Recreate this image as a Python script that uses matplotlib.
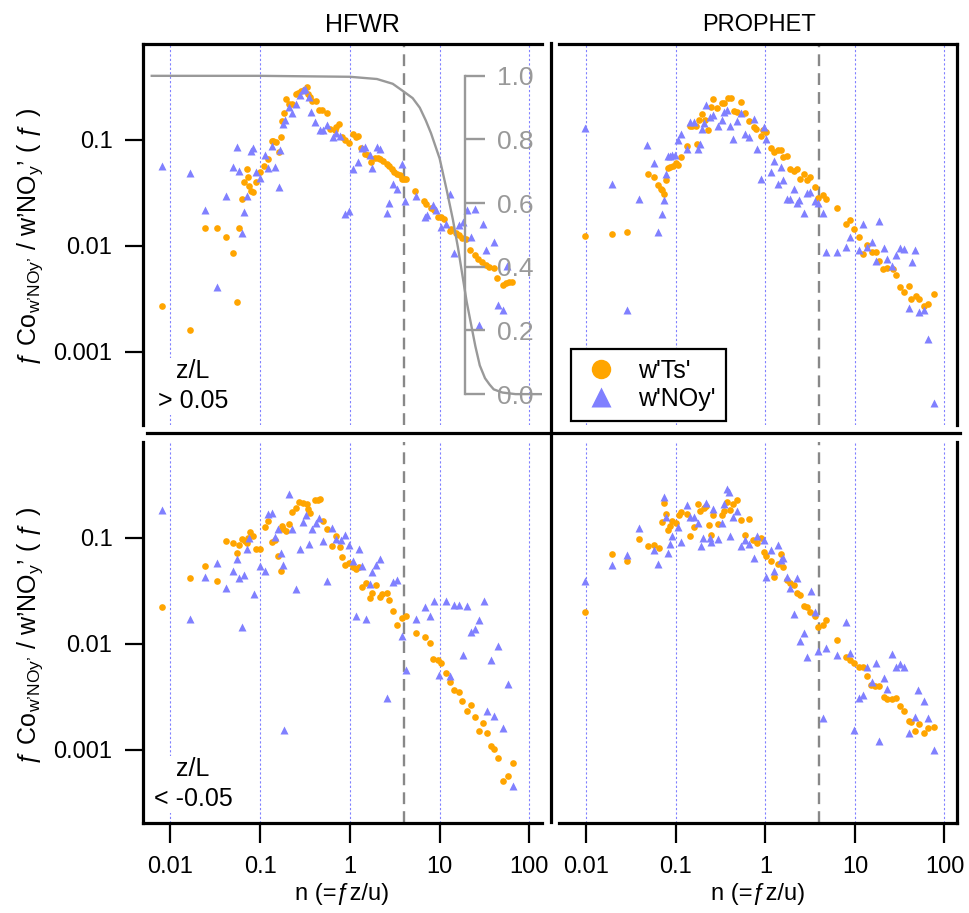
import numpy as np
import matplotlib
matplotlib.use("Agg")
import matplotlib.pyplot as plt
from matplotlib.lines import Line2D
from matplotlib.ticker import NullLocator

plt.rcParams['font.family'] = ['Liberation Sans', 'DejaVu Sans']
plt.rcParams['mathtext.fontset'] = 'custom'
plt.rcParams['mathtext.rm'] = 'Liberation Sans'

# points as (log10 n, log10 normalised cospectrum)
hfwr_stable_ts = [
    (-2.09, -2.57), (-1.78, -2.79), (-1.61, -1.83), (-1.48, -1.83), (-1.38, -1.92), (-1.30, -2.07),
    (-1.26, -2.53), (-1.23, -1.83), (-1.20, -1.56), (-1.18, -1.40), (-1.15, -1.28), (-1.13, -1.35),
    (-1.12, -1.44), (-1.10, -1.48), (-1.08, -1.49), (-1.05, -1.40), (-1.00, -1.30), (-0.96, -1.25),
    (-0.91, -1.18), (-0.87, -1.01), (-0.86, -1.01), (-0.82, -1.02), (-0.79, -1.12), (-0.77, -0.97),
    (-0.76, -0.82), (-0.73, -0.75), (-0.71, -0.62), (-0.68, -0.66), (-0.65, -0.66), (-0.60, -0.57),
    (-0.58, -0.56), (-0.54, -0.54), (-0.51, -0.53), (-0.48, -0.50), (-0.47, -0.57), (-0.45, -0.60),
    (-0.42, -0.63), (-0.38, -0.63), (-0.34, -0.72), (-0.31, -0.72), (-0.25, -0.75), (-0.22, -0.90),
    (-0.17, -0.91), (-0.15, -0.88), (-0.12, -0.85), (-0.09, -0.97), (-0.06, -1.00), (-0.01, -1.03),
    (0.03, -0.95), (0.07, -0.97), (0.09, -0.96), (0.12, -1.08), (0.17, -1.13), (0.20, -1.14),
    (0.24, -1.21), (0.28, -1.17), (0.31, -1.17), (0.34, -1.18), (0.37, -1.20), (0.41, -1.23),
    (0.44, -1.25), (0.47, -1.28), (0.49, -1.30), (0.53, -1.32), (0.56, -1.33), (0.58, -1.37),
    (0.60, -1.37), (0.62, -1.37), (0.73, -1.48), (0.83, -1.58), (0.85, -1.61), (0.90, -1.64),
    (0.94, -1.66), (0.98, -1.73), (1.02, -1.73), (1.05, -1.75), (1.11, -1.86), (1.13, -1.84),
    (1.18, -1.88), (1.22, -1.90), (1.25, -1.93), (1.29, -1.94), (1.34, -2.04), (1.39, -2.09),
    (1.43, -2.12), (1.47, -2.15), (1.52, -2.18), (1.55, -2.20), (1.61, -2.21), (1.64, -2.30),
    (1.70, -2.37), (1.74, -2.35), (1.77, -2.34), (1.81, -2.34),
]
hfwr_stable_noy = [
    (-2.09, -1.25), (-1.78, -1.31), (-1.61, -1.66), (-1.48, -2.39), (-1.38, -1.53), (-1.30, -1.26),
    (-1.26, -1.07), (-1.23, -1.29), (-1.20, -1.88), (-1.18, -1.68), (-1.15, -1.53), (-1.10, -1.11),
    (-1.08, -1.08), (-1.05, -1.30), (-1.00, -1.36), (-0.95, -1.14), (-0.91, -1.27), (-0.87, -1.06),
    (-0.83, -1.26), (-0.79, -1.45), (-0.78, -1.10), (-0.74, -0.85), (-0.72, -0.81), (-0.68, -0.69),
    (-0.64, -0.75), (-0.60, -0.66), (-0.56, -0.58), (-0.52, -0.53), (-0.50, -0.52), (-0.46, -0.60),
    (-0.43, -0.74), (-0.39, -0.83), (-0.33, -0.91), (-0.30, -0.91), (-0.26, -0.86), (-0.19, -0.97),
    (-0.15, -0.94), (-0.11, -0.96), (-0.06, -1.70), (-0.01, -1.67), (0.03, -1.28), (0.09, -1.21),
    (0.13, -1.08), (0.17, -1.07), (0.22, -1.14), (0.25, -1.27), (0.30, -1.07), (0.33, -1.09),
    (0.41, -1.69), (0.44, -1.60), (0.48, -1.42), (0.53, -1.46), (0.58, -1.23), (0.61, -1.58),
    (0.74, -1.53), (0.84, -1.73), (0.86, -1.71), (0.93, -1.62), (0.96, -1.66), (1.02, -1.82),
    (1.07, -1.79), (1.12, -1.51), (1.16, -2.07), (1.21, -1.80), (1.26, -1.78), (1.30, -1.66),
    (1.35, -1.92), (1.39, -1.65), (1.44, -2.75), (1.48, -1.79), (1.52, -2.04), (1.60, -1.96),
    (1.65, -2.56), (1.71, -2.61), (1.75, -2.19),
]
prophet_stable_ts = [
    (-2.01, -1.91), (-1.71, -1.89), (-1.54, -1.87), (-1.31, -1.32), (-1.24, -1.35), (-1.20, -1.43),
    (-1.17, -1.46), (-1.15, -1.47), (-1.13, -1.51), (-1.11, -1.38), (-1.09, -1.27), (-1.06, -1.26),
    (-1.03, -1.25), (-1.00, -1.22), (-0.98, -1.24), (-0.94, -1.16), (-0.88, -1.06), (-0.84, -0.87),
    (-0.82, -0.87), (-0.78, -0.87), (-0.76, -1.04), (-0.74, -0.81), (-0.71, -0.76), (-0.68, -0.81),
    (-0.64, -0.91), (-0.61, -0.69), (-0.58, -0.62), (-0.54, -0.70), (-0.49, -0.65), (-0.46, -0.65),
    (-0.42, -0.61), (-0.38, -0.61), (-0.35, -0.73), (-0.32, -0.74), (-0.27, -0.64), (-0.23, -0.75),
    (-0.18, -0.82), (-0.13, -0.88), (-0.10, -0.90), (-0.05, -0.96), (-0.03, -0.91), (0.01, -0.93),
    (0.06, -1.08), (0.10, -1.12), (0.14, -1.10), (0.17, -1.10), (0.20, -1.16), (0.24, -1.15),
    (0.28, -1.28), (0.32, -1.29), (0.35, -1.28), (0.39, -1.37), (0.43, -1.32), (0.47, -1.38),
    (0.50, -1.35), (0.55, -1.45), (0.59, -1.55), (0.64, -1.52), (0.68, -1.56), (0.80, -1.64),
    (0.90, -1.79), (0.94, -1.76), (0.99, -1.84), (1.04, -1.92), (1.09, -2.08), (1.14, -1.99),
    (1.19, -2.06), (1.24, -2.06), (1.27, -2.14), (1.31, -2.22), (1.36, -2.21), (1.42, -2.22),
    (1.46, -2.28), (1.50, -2.39), (1.55, -2.44), (1.60, -2.38), (1.63, -2.50), (1.68, -2.47),
    (1.72, -2.50), (1.77, -2.57), (1.82, -2.55), (1.88, -2.45),
]
prophet_stable_noy = [
    (-2.01, -0.89), (-1.71, -1.42), (-1.54, -2.61), (-1.41, -1.56), (-1.32, -1.05), (-1.24, -1.22),
    (-1.20, -1.87), (-1.15, -1.70), (-1.13, -1.57), (-1.11, -1.32), (-1.09, -1.15), (-1.07, -1.15),
    (-1.04, -1.14), (-1.01, -1.14), (-0.98, -1.00), (-0.94, -0.95), (-0.88, -1.09), (-0.84, -0.83),
    (-0.80, -0.83), (-0.75, -1.09), (-0.73, -1.04), (-0.71, -0.90), (-0.69, -0.84), (-0.66, -0.67),
    (-0.62, -0.79), (-0.58, -0.77), (-0.53, -0.87), (-0.49, -0.81), (-0.46, -0.74), (-0.43, -0.72),
    (-0.40, -0.87), (-0.36, -0.99), (-0.32, -0.82), (-0.27, -0.75), (-0.23, -0.95), (-0.18, -0.97),
    (-0.13, -0.80), (-0.09, -1.09), (-0.05, -1.37), (-0.02, -0.88), (0.01, -0.99), (0.06, -1.30),
    (0.10, -1.20), (0.14, -1.42), (0.17, -1.26), (0.20, -1.38), (0.24, -1.56), (0.27, -1.56),
    (0.32, -1.46), (0.35, -1.60), (0.38, -1.57), (0.43, -1.69), (0.47, -1.50), (0.50, -1.49),
    (0.55, -1.58), (0.59, -1.60), (0.64, -1.69), (0.68, -2.06), (0.80, -2.06), (0.90, -2.01),
    (0.95, -1.92), (1.04, -2.04), (1.09, -1.79), (1.13, -2.01), (1.19, -1.96), (1.24, -2.14),
    (1.27, -1.77), (1.32, -2.02), (1.36, -2.12), (1.41, -2.19), (1.46, -2.09), (1.50, -2.02),
    (1.55, -2.03), (1.60, -2.59), (1.64, -2.15), (1.67, -2.04), (1.72, -2.62), (1.77, -2.61),
    (1.82, -2.88), (1.88, -3.48),
]
hfwr_unstable_ts = [
    (-2.09, -1.65), (-1.78, -1.38), (-1.61, -1.27), (-1.48, -1.41), (-1.38, -1.03), (-1.30, -1.05),
    (-1.26, -1.14), (-1.23, -1.07), (-1.20, -1.01), (-1.17, -1.03), (-1.15, -1.05), (-1.13, -1.00),
    (-1.11, -0.95), (-1.08, -0.98), (-1.05, -1.11), (-1.00, -1.11), (-0.95, -0.90), (-0.91, -0.84),
    (-0.87, -1.04), (-0.84, -1.02), (-0.80, -1.17), (-0.77, -1.31), (-0.76, -0.89), (-0.74, -0.92),
    (-0.71, -0.94), (-0.68, -0.87), (-0.64, -0.76), (-0.60, -0.72), (-0.57, -0.66), (-0.52, -0.67),
    (-0.48, -0.68), (-0.47, -0.73), (-0.44, -0.77), (-0.39, -0.64), (-0.35, -0.64), (-0.33, -0.63),
    (-0.30, -0.84), (-0.25, -0.92), (-0.20, -1.08), (-0.16, -0.98), (-0.11, -1.09), (-0.09, -1.18),
    (-0.06, -1.26), (-0.01, -1.24), (0.04, -1.28), (0.07, -1.29), (0.10, -1.28), (0.13, -1.46),
    (0.18, -1.43), (0.22, -1.57), (0.25, -1.52), (0.29, -1.45), (0.33, -1.56), (0.36, -1.53),
    (0.41, -1.52), (0.44, -1.59), (0.48, -1.69), (0.53, -1.82), (0.58, -1.76), (0.62, -1.74),
    (0.74, -1.90), (0.84, -1.94), (0.89, -1.99), (0.93, -2.14), (0.98, -2.15), (1.02, -2.18),
    (1.07, -2.28), (1.12, -2.36), (1.16, -2.44), (1.21, -2.45), (1.25, -2.54), (1.30, -2.63),
    (1.35, -2.58), (1.39, -2.69), (1.44, -2.82), (1.48, -2.75), (1.53, -2.84), (1.57, -2.96),
    (1.61, -2.99), (1.65, -3.08), (1.71, -3.29), (1.76, -3.25), (1.82, -3.12),
]
hfwr_unstable_noy = [
    (-2.09, -0.74), (-1.78, -1.77), (-1.61, -1.37), (-1.48, -1.24), (-1.38, -1.47), (-1.30, -1.31),
    (-1.26, -1.20), (-1.23, -1.38), (-1.20, -1.84), (-1.18, -1.35), (-1.15, -1.11), (-1.12, -1.00),
    (-1.07, -1.53), (-1.00, -1.27), (-0.95, -1.31), (-0.91, -0.78), (-0.87, -0.77), (-0.83, -0.99),
    (-0.80, -0.92), (-0.77, -1.14), (-0.75, -1.26), (-0.73, -2.81), (-0.68, -0.59), (-0.64, -0.92),
    (-0.60, -1.48), (-0.56, -1.11), (-0.52, -0.85), (-0.49, -0.79), (-0.46, -1.06), (-0.42, -0.92),
    (-0.38, -0.86), (-0.34, -0.81), (-0.30, -1.03), (-0.25, -1.41), (-0.20, -0.91), (-0.15, -1.01),
    (-0.10, -1.02), (-0.05, -0.97), (-0.01, -1.07), (0.04, -1.22), (0.07, -1.74), (0.10, -1.11),
    (0.14, -1.27), (0.18, -1.77), (0.22, -1.44), (0.25, -1.32), (0.29, -1.26), (0.33, -1.20),
    (0.41, -2.51), (0.48, -1.42), (0.53, -1.40), (0.58, -1.93), (0.62, -2.25), (0.74, -1.77),
    (0.84, -1.65), (0.89, -1.74), (0.94, -1.60), (0.99, -2.29), (1.07, -1.60), (1.12, -2.30),
    (1.16, -1.63), (1.21, -1.63), (1.26, -2.11), (1.30, -1.64), (1.35, -1.89), (1.39, -1.86),
    (1.44, -1.78), (1.49, -1.60), (1.53, -2.63), (1.57, -2.15), (1.61, -2.68), (1.65, -2.02),
    (1.71, -2.79), (1.76, -2.38), (1.82, -3.34),
]
prophet_unstable_ts = [
    (-2.01, -1.70), (-1.71, -1.15), (-1.54, -1.22), (-1.41, -1.01), (-1.31, -1.08), (-1.24, -1.07),
    (-1.19, -1.10), (-1.16, -0.85), (-1.13, -0.67), (-1.11, -0.78), (-1.09, -0.93), (-1.07, -0.89),
    (-1.04, -0.84), (-1.00, -0.86), (-0.97, -0.79), (-0.94, -0.76), (-0.88, -0.78), (-0.84, -0.98),
    (-0.80, -0.90), (-0.75, -0.68), (-0.73, -0.75), (-0.69, -0.72), (-0.66, -0.70), (-0.63, -0.88),
    (-0.61, -0.97), (-0.58, -0.79), (-0.53, -0.87), (-0.49, -0.79), (-0.46, -0.75), (-0.43, -0.66),
    (-0.39, -0.74), (-0.36, -0.68), (-0.32, -0.64), (-0.27, -0.83), (-0.23, -0.97), (-0.18, -0.82),
    (-0.14, -1.02), (-0.09, -1.05), (-0.05, -1.00), (-0.02, -1.13), (0.01, -1.17), (0.06, -1.22),
    (0.10, -1.37), (0.14, -1.25), (0.17, -1.15), (0.20, -1.28), (0.24, -1.40), (0.28, -1.43),
    (0.32, -1.45), (0.35, -1.52), (0.39, -1.54), (0.43, -1.64), (0.47, -1.65), (0.50, -1.70),
    (0.55, -1.74), (0.59, -1.84), (0.64, -1.82), (0.68, -1.78), (0.80, -1.96), (0.90, -2.12),
    (0.95, -2.15), (0.99, -2.18), (1.04, -2.22), (1.09, -2.22), (1.13, -2.30), (1.18, -2.39),
    (1.22, -2.40), (1.27, -2.40), (1.32, -2.50), (1.36, -2.52), (1.41, -2.52), (1.46, -2.51),
    (1.50, -2.59), (1.55, -2.63), (1.60, -2.73), (1.63, -2.74), (1.67, -2.82), (1.72, -2.76),
    (1.77, -2.84), (1.82, -2.79), (1.88, -2.78),
]
prophet_unstable_noy = [
    (-2.01, -1.41), (-1.71, -1.26), (-1.54, -1.16), (-1.41, -0.91), (-1.24, -1.12), (-1.20, -1.25),
    (-1.13, -0.62), (-1.11, -0.80), (-1.09, -1.14), (-1.07, -1.06), (-1.04, -0.98), (-0.98, -0.90),
    (-0.94, -1.04), (-0.88, -0.69), (-0.84, -0.80), (-0.80, -0.80), (-0.75, -0.86), (-0.72, -1.08),
    (-0.70, -1.00), (-0.66, -0.67), (-0.62, -1.00), (-0.61, -1.04), (-0.58, -0.73), (-0.53, -1.01),
    (-0.48, -0.86), (-0.46, -0.68), (-0.43, -0.54), (-0.41, -0.57), (-0.39, -0.98), (-0.36, -0.80),
    (-0.32, -0.75), (-0.27, -1.08), (-0.23, -1.02), (-0.18, -1.06), (-0.13, -1.19), (-0.09, -0.98),
    (-0.02, -1.02), (0.01, -1.37), (0.06, -1.12), (0.10, -1.31), (0.14, -1.07), (0.17, -1.21),
    (0.20, -1.19), (0.24, -1.37), (0.28, -1.47), (0.32, -1.72), (0.35, -1.38), (0.39, -1.97),
    (0.43, -1.90), (0.47, -2.12), (0.51, -1.50), (0.55, -1.70), (0.59, -2.07), (0.64, -2.70),
    (0.68, -2.04), (0.80, -2.11), (0.90, -1.79), (0.95, -2.09), (0.99, -2.81), (1.04, -2.51),
    (1.09, -2.48), (1.13, -2.22), (1.19, -2.36), (1.24, -2.18), (1.27, -2.92), (1.32, -2.32),
    (1.36, -2.43), (1.41, -2.10), (1.46, -2.22), (1.50, -2.19), (1.55, -2.22), (1.60, -2.84),
    (1.67, -2.69), (1.71, -2.44), (1.77, -2.54), (1.82, -2.70), (1.88, -3.00),
]

# transfer function drawn against the grey right axis (top-left panel)
transfer_n = [0.0062, 0.1, 1, 2, 3, 4, 5, 6, 7, 8, 10, 12, 14, 16, 18, 20, 22, 25, 28, 32, 36, 40, 50, 70, 140]
transfer_v = [1.0, 1.0, 0.997, 0.99, 0.975, 0.95, 0.93, 0.90, 0.86, 0.82, 0.74, 0.64, 0.55, 0.46, 0.37,
              0.29, 0.23, 0.15, 0.09, 0.05, 0.03, 0.015, 0.005, 0.0, 0.0]

n_cut = 4
x_ticks = [0.01, 0.1, 1, 10, 100]
x_labels = ['0.01', '0.1', '1', '10', '100']
y_ticks = [0.001, 0.01, 0.1]
y_labels = ['0.001', '0.01', '0.1']
right_ticks = [0.0, 0.2, 0.4, 0.6, 0.8, 1.0]

ORANGE = '#FFA500'
BLUE = '#8080FF'
GREY = '#999999'

W, H = 970, 913
fig = plt.figure(figsize=(W / 100, H / 100), dpi=100)


def box(x0, y0, x1, y1):
    # pixel box (y from top) -> figure fraction
    return [x0 / W, 1 - y1 / H, (x1 - x0) / W, (y1 - y0) / H]


def panel(ax, ts, noy, spines, left, bottom):
    for v in x_ticks:
        ax.axvline(v, color=BLUE, lw=0.8, ls=(0, (2, 2)), zorder=0)
    ax.axvline(n_cut, color='#888888', lw=1.7, ls=(0, (5, 3)), zorder=1)
    t = 10 ** np.array(ts).T
    b = 10 ** np.array(noy).T
    ax.plot(t[0], t[1], 'o', color=ORANGE, ms=4.8, mec='none', zorder=3)
    ax.plot(b[0], b[1], '^', color=BLUE, ms=6, mec='none', zorder=4)
    ax.set_xscale('log')
    ax.set_yscale('log')
    ax.set_xlim(10 ** -2.305, 10 ** 2.14)
    ax.set_ylim(10 ** -3.69, 10 ** -0.097)
    for s in ax.spines:
        ax.spines[s].set_visible(s in spines)
        ax.spines[s].set_linewidth(2.3)
    ax.set_xticks(x_ticks)
    ax.set_xticklabels(x_labels)
    ax.set_yticks(y_ticks)
    ax.set_yticklabels(y_labels)
    ax.xaxis.set_minor_locator(NullLocator())
    ax.yaxis.set_minor_locator(NullLocator())
    ax.tick_params(axis='x', bottom=bottom, labelbottom=bottom, top=False, length=14.5, width=1.6,
                   pad=9, labelsize=17)
    ax.tick_params(axis='y', left=left, labelleft=left, right=False, length=13, width=1.6,
                   pad=9, labelsize=17)


ax_tl = fig.add_axes(box(143, 44, 542, 425))
ax_tr = fig.add_axes(box(559, 44, 957, 425))
ax_bl = fig.add_axes(box(143, 442, 542, 823))
ax_br = fig.add_axes(box(559, 442, 957, 823))

panel(ax_tl, hfwr_stable_ts, hfwr_stable_noy, ['left', 'top'], True, False)
panel(ax_tr, prophet_stable_ts, prophet_stable_noy, ['top', 'right'], False, False)
panel(ax_bl, hfwr_unstable_ts, hfwr_unstable_noy, ['left', 'bottom'], True, True)
panel(ax_br, prophet_unstable_ts, prophet_unstable_noy, ['bottom', 'right'], False, True)

# grey transfer function with its own axis inside the top-left panel
tw = ax_tl.twinx()
tw.plot(transfer_n, transfer_v, color=GREY, lw=1.7, zorder=2)
tw.set_ylim(-0.097, 1.10)
for s in ['top', 'bottom', 'left']:
    tw.spines[s].set_visible(False)
tw.spines['right'].set_position(('axes', 0.807))
tw.spines['right'].set_bounds(0, 1)
tw.spines['right'].set_color(GREY)
tw.spines['right'].set_linewidth(1.7)
tw.set_yticks(right_ticks)
tw.set_yticklabels(['%.1f' % v for v in right_ticks])
tw.tick_params(axis='y', colors=GREY, length=14.4, width=1.7, pad=9, labelsize=19)

# stability class labels
for ax, lab in [(ax_tl, 'z/L\n> 0.05'), (ax_bl, 'z/L\n< -0.05')]:
    ax.text(0.125, 0.172, lab, transform=ax.transAxes, ha='center', va='top', multialignment='center',
            fontsize=18, linespacing=1.3, zorder=6, bbox=dict(fc='white', ec='none', pad=1))

handles = [Line2D([], [], ls='none', marker='o', color=ORANGE, ms=14, mec='none', label="w'Ts'"),
           Line2D([], [], ls='none', marker='^', color=BLUE, ms=14, mec='none', label="w'NOy'")]
leg = ax_tr.legend(handles=handles, loc='upper left', bbox_to_anchor=(0.03, 0.199), borderaxespad=0,
                   fancybox=False, edgecolor='black', framealpha=1, fontsize=18, handletextpad=0.7,
                   borderpad=0.4, labelspacing=0.15, handlelength=1.6)
leg.get_frame().set_linewidth(1.6)

# central cross dividing the panels
fig.add_artist(Line2D([551 / W, 551 / W], [1 - 43 / H, 1 - 822 / H], transform=fig.transFigure,
                      color='black', lw=2.3))
fig.add_artist(Line2D([147 / W, 960 / W], [1 - 433 / H, 1 - 433 / H], transform=fig.transFigure,
                      color='black', lw=2.3))

fig.text(362 / W, 1 - 25 / H, 'HFWR', ha='center', va='center', fontsize=18)
fig.text(759 / W, 1 - 25 / H, 'PROPHET', ha='center', va='center', fontsize=17)

ylab = "ƒ Co$_{\\mathregular{w’NOy’}}$ / w’NO$_{\\mathregular{y}}$’ ( ƒ )"
fig.text(30 / W, 1 - 237 / H, ylab, rotation=90, ha='center', va='center', fontsize=18)
fig.text(30 / W, 1 - 636 / H, ylab, rotation=90, ha='center', va='center', fontsize=18)

fig.text(342 / W, 1 - 894 / H, 'n (=ƒz/u)', ha='center', va='center', fontsize=17)
fig.text(758 / W, 1 - 894 / H, 'n (=ƒz/u)', ha='center', va='center', fontsize=17)

fig.savefig('out.png', dpi=100)
